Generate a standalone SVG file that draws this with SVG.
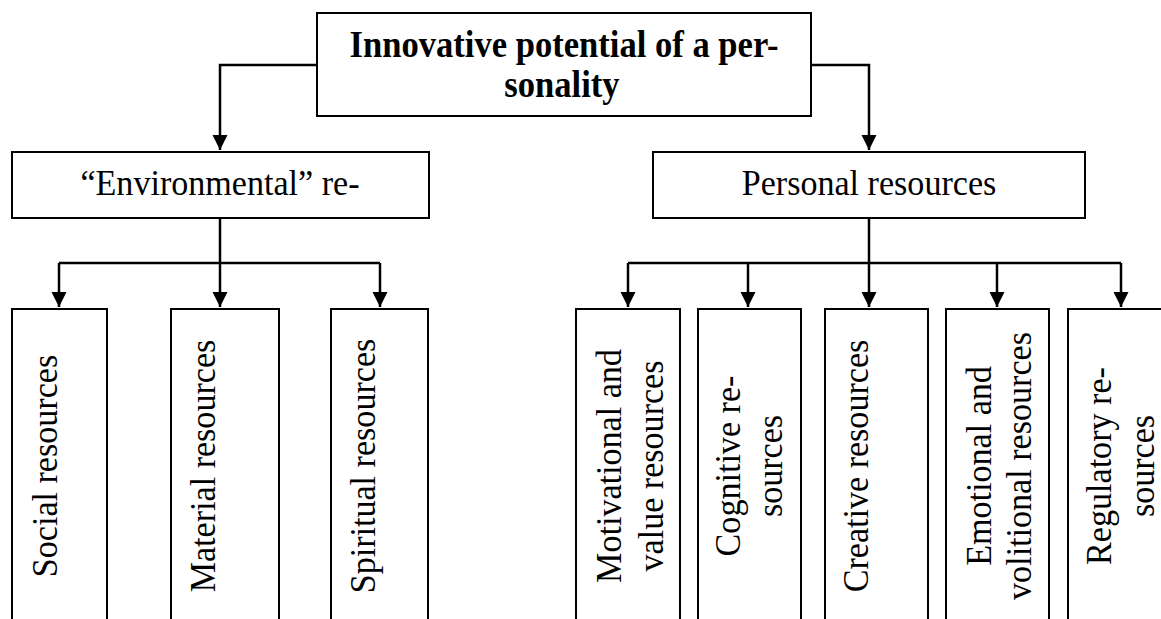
<svg xmlns="http://www.w3.org/2000/svg" width="1161" height="619" viewBox="0 0 1161 619">
<style>
.box{fill:#fff;stroke:#000;stroke-width:2}
.lbl{font-family:"Liberation Serif","Times New Roman",serif;font-size:36px;fill:#000;text-anchor:middle}
.title{font-weight:bold;font-size:37px}
.con{fill:none;stroke:#000;stroke-width:2.5}
</style>
<defs>
<marker id="ah" markerUnits="userSpaceOnUse" markerWidth="16" markerHeight="16" refX="15" refY="7.5" orient="auto">
<path d="M0,0 L15,7.5 L0,15 Z" fill="#000"/>
</marker>
</defs>
<rect width="1161" height="619" fill="#fff"/>
<g id="connectors">
<path class="con" d="M317,65 H220 V150" marker-end="url(#ah)"/>
<path class="con" d="M811,65 H869 V150" marker-end="url(#ah)"/>
<path class="con" d="M220,218 V307" marker-end="url(#ah)"/>
<path class="con" d="M59,263 H380"/>
<path class="con" d="M59,263 V307" marker-end="url(#ah)"/>
<path class="con" d="M380,263 V307" marker-end="url(#ah)"/>
<path class="con" d="M869,218 V307" marker-end="url(#ah)"/>
<path class="con" d="M628,263 H1121"/>
<path class="con" d="M628,263 V307" marker-end="url(#ah)"/>
<path class="con" d="M748,263 V307" marker-end="url(#ah)"/>
<path class="con" d="M997,263 V307" marker-end="url(#ah)"/>
<path class="con" d="M1121,263 V307" marker-end="url(#ah)"/>
</g>
<g id="n-root">
<rect class="box" x="317" y="13" width="494" height="103"/>
<text class="lbl title" transform="translate(564,57) scale(0.935,1)">Innovative potential of a per-</text>
<text class="lbl title" transform="translate(562,97) scale(0.935,1)">sonality</text>
</g>
<g id="n-env">
<rect class="box" x="12" y="152" width="417" height="66"/>
<text class="lbl" transform="translate(220,195) scale(0.947,1)">“Environmental” re-</text>
</g>
<g id="n-personal">
<rect class="box" x="653" y="152" width="432" height="66"/>
<text class="lbl" transform="translate(869,195) scale(0.947,1)">Personal resources</text>
</g>
<g id="n-social">
<rect class="box" x="12" y="309" width="95" height="340"/>
<text class="lbl" transform="translate(57,466) rotate(-90) scale(0.947,1)">Social resources</text>
</g>
<g id="n-material">
<rect class="box" x="171" y="309" width="108" height="340"/>
<text class="lbl" transform="translate(215,466) rotate(-90) scale(0.947,1)">Material resources</text>
</g>
<g id="n-spiritual">
<rect class="box" x="331" y="309" width="97" height="340"/>
<text class="lbl" transform="translate(375,466) rotate(-90) scale(0.947,1)">Spiritual resources</text>
</g>
<g id="n-motivational">
<rect class="box" x="576" y="309" width="104" height="340"/>
<text class="lbl" transform="translate(621,466) rotate(-90) scale(0.947,1)">Motivational and</text>
<text class="lbl" transform="translate(663,466) rotate(-90) scale(0.947,1)">value resources</text>
</g>
<g id="n-cognitive">
<rect class="box" x="698" y="309" width="103" height="340"/>
<text class="lbl" transform="translate(740,466) rotate(-90) scale(0.947,1)">Cognitive re-</text>
<text class="lbl" transform="translate(782,466) rotate(-90) scale(0.947,1)">sources</text>
</g>
<g id="n-creative">
<rect class="box" x="825" y="309" width="103" height="340"/>
<text class="lbl" transform="translate(868,466) rotate(-90) scale(0.947,1)">Creative resources</text>
</g>
<g id="n-emotional">
<rect class="box" x="946" y="309" width="103" height="340"/>
<text class="lbl" transform="translate(991,466) rotate(-90) scale(0.947,1)">Emotional and</text>
<text class="lbl" transform="translate(1031,466) rotate(-90) scale(0.947,1)">volitional resources</text>
</g>
<g id="n-regulatory">
<rect class="box" x="1068" y="309" width="106" height="340"/>
<text class="lbl" transform="translate(1111,466) rotate(-90) scale(0.947,1)">Regulatory re-</text>
<text class="lbl" transform="translate(1154,466) rotate(-90) scale(0.947,1)">sources</text>
</g>
</svg>
